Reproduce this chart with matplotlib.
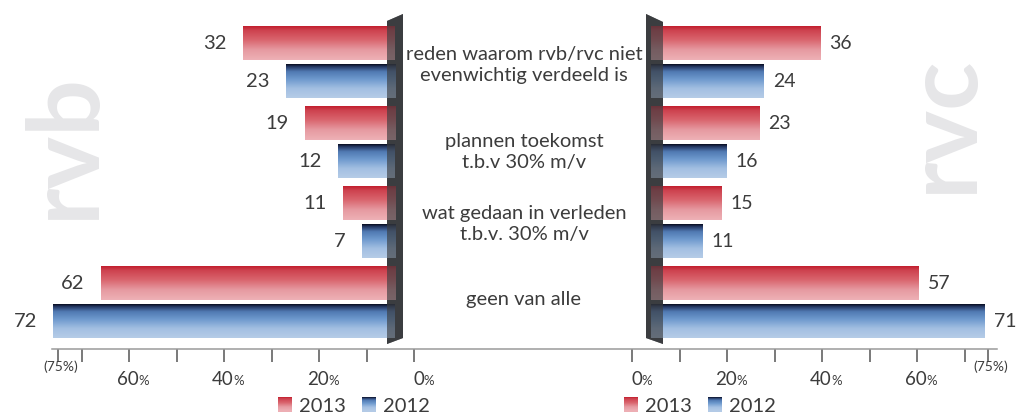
############################# Chart setup ##########################################

import matplotlib
matplotlib.use('Agg')
import matplotlib.pyplot as plt
import matplotlib.transforms as mtransforms
import numpy as np
from matplotlib.colors import LinearSegmentedColormap
from matplotlib.patches import Polygon, Rectangle, Patch
from matplotlib.lines import Line2D
from matplotlib.legend_handler import HandlerBase

plt.rcParams['font.family'] = ['Lato', 'DejaVu Sans']

# data
categories = ['reden waarom rvb/rvc niet\nevenwichtig verdeeld is',
              'plannen toekomst\nt.b.v 30% m/v',
              'wat gedaan in verleden\nt.b.v. 30% m/v',
              'geen van alle']
rvb_2013 = [32, 19, 11, 62]
rvb_2012 = [23, 12, 7, 72]
rvc_2013 = [36, 23, 15, 57]
rvc_2012 = [24, 16, 11, 71]
years = ['2013', '2012']
tick_values = [0, 10, 20, 30, 40, 50, 60, 70, 75]
labelled_ticks = [0, 20, 40, 60]

TEXT = '#3c3c3c'
WALL = '#3b3d40'

red_cmap = LinearSegmentedColormap.from_list('red', [
    (0.0, '#c21d2c'), (0.12, '#cd414e'), (0.4, '#d9646d'),
    (0.7, '#e69aa1'), (1.0, '#eeb1b6')])
blue_cmap = LinearSegmentedColormap.from_list('blue', [
    (0.0, '#070b1e'), (0.08, '#263a66'), (0.22, '#5079b2'),
    (0.45, '#6f9ace'), (0.72, '#a3bfe2'), (1.0, '#b5cce7')])

W, H = 1018, 416
fig = plt.figure(figsize=(W / 100, H / 100), dpi=100)


def fx(px):
    return px / W


def fy(py):
    return 1 - py / H


class HandlerGradient(HandlerBase):
    """Legend square drawn as a stack of colour strips."""
    def __init__(self, cmap):
        super().__init__()
        self.cmap = cmap

    def create_artists(self, legend, orig_handle, xdescent, ydescent,
                       width, height, fontsize, trans):
        n = 14
        strips = []
        for i in range(n):
            strips.append(Rectangle((-xdescent, -ydescent + height * (n - 1 - i) / n),
                                    width, height / n + 0.2,
                                    facecolor=self.cmap((i + 0.5) / n),
                                    edgecolor='none', transform=trans))
        return strips


def gradient_bars(ax, bars, cmap):
    grad = np.linspace(0, 1, 256).reshape(-1, 1)
    for b in bars:
        x0, y0, w, h = b.get_x(), b.get_y(), b.get_width(), b.get_height()
        ax.imshow(grad, cmap=cmap, aspect='auto', origin='upper',
                  extent=(x0, x0 + w, y0 + h, y0), zorder=3,
                  interpolation='bilinear')


########################################### Bars ###################################

pos = np.arange(len(categories))
off, bh = 0.24, 0.4125
ylim = (3.534, -0.778)

ax_l = fig.add_axes([0, fy(345), fx(395), 345 / H])
ax_r = fig.add_axes([fx(651), fy(345), 1 - fx(651), 345 / H])

for ax, v13, v12, xlim, side in [(ax_l, rvb_2013, rvb_2012, (395 / 4.75, 0), 'l'),
                                 (ax_r, rvc_2013, rvc_2012, (0, 367 / 4.70), 'r')]:
    b13 = ax.barh(pos - off, v13, height=bh, color='#d9656e', zorder=2)
    b12 = ax.barh(pos + off, v12, height=bh, color='#6f9ace', zorder=2)
    gradient_bars(ax, b13, red_cmap)
    gradient_bars(ax, b12, blue_cmap)
    for bars, vals in [(b13, v13), (b12, v12)]:
        for b, v in zip(bars, vals):
            yc = b.get_y() + b.get_height() / 2
            if side == 'l':
                ax.annotate(str(v), xy=(v, yc), xytext=(-16, 0), textcoords='offset pixels',
                            ha='right', va='center', fontsize=14.5, color=TEXT)
            else:
                ax.annotate(str(v), xy=(v, yc), xytext=(9, 0), textcoords='offset pixels',
                            ha='left', va='center', fontsize=14, color=TEXT)
    ax.set_xlim(*xlim)
    ax.set_ylim(*ylim)
    ax.set_facecolor('none')
    ax.axis('off')

# dark "walls" behind and over the bar ends
walls = [[(387, 21), (403, 14), (403, 338), (387, 344)],
         [(646, 14), (663, 22), (663, 344), (646, 338)]]
for w in walls:
    pts = [(fx(x), fy(y)) for x, y in w]
    fig.add_artist(Polygon(pts, closed=True, facecolor=WALL, edgecolor='none',
                           transform=fig.transFigure, zorder=-1))
    fig.add_artist(Polygon(pts, closed=True, facecolor=WALL, edgecolor='none', alpha=0.66,
                           transform=fig.transFigure, zorder=5))

# category labels in the middle
label_y = [65, 152, 224, 300]
for lab, yc in zip(categories, label_y):
    fig.text(fx(524), fy(yc), lab, ha='center', va='center', fontsize=14.5,
             color=TEXT, linespacing=1.3)

# big watermark labels
fig.text(fx(65), fy(146), 'rvb', rotation=90, ha='center', va='center',
         fontsize=72, fontweight='bold', color='#e6e6e8', zorder=-2)
fig.text(fx(943), fy(124), 'rvc', rotation=90, ha='center', va='center',
         fontsize=72, fontweight='bold', color='#e6e6e8', zorder=-2)

########################################### Bottom scales ###################################

# one continuous baseline under both scales
fig.add_artist(Line2D([fx(52), fx(997)], [fy(349), fy(349)], color='#9a9a9a',
                      linewidth=1.1, transform=fig.transFigure))

ax_tl = fig.add_axes([fx(52), fy(349), fx(523 - 52), 0.001])
ax_tl.set_xlim((414 - 52) / 4.75, (414 - 523) / 4.75)
ax_tr = fig.add_axes([fx(523), fy(349), fx(997 - 523), 0.001])
ax_tr.set_xlim((523 - 632) / 4.75, (997 - 632) / 4.75)

for ax in (ax_tl, ax_tr):
    ax.set_facecolor('none')
    for s in ax.spines.values():
        s.set_visible(False)
    ax.yaxis.set_visible(False)
    ax.set_xticks(tick_values)
    ax.set_xticklabels([])
    ax.tick_params(axis='x', length=9.5, width=1.1, color='#555555', direction='out')
    trans = mtransforms.blended_transform_factory(ax.transData, fig.transFigure)
    num_t = mtransforms.offset_copy(trans, fig=fig, x=10, y=0, units='dots')
    pct_t = mtransforms.offset_copy(trans, fig=fig, x=9, y=0, units='dots')
    for v in labelled_ticks:
        ax.text(v, fy(385), str(v), transform=num_t, ha='right', va='baseline',
                fontsize=13.5, color=TEXT)
        ax.text(v, fy(385), '%', transform=pct_t, ha='left', va='baseline',
                fontsize=9.5, color=TEXT)
    ax.text(75, fy(367), '(75%)', transform=mtransforms.offset_copy(trans, fig=fig, x=3, y=0, units='dots'),
            ha='center', va='center', fontsize=10, color=TEXT)

########################################### Legends ###################################

handles = [Patch(facecolor='#d9656e'), Patch(facecolor='#6f9ace')]
hmap = {handles[0]: HandlerGradient(red_cmap), handles[1]: HandlerGradient(blue_cmap)}
for cx in (354, 700):
    fig.legend(handles=handles, labels=years, handler_map=hmap, loc='center',
               bbox_to_anchor=(fx(cx), fy(406)), ncol=2, frameon=False, fontsize=14.5,
               handlelength=0.7, handleheight=0.7, handletextpad=0.35,
               columnspacing=0.8, borderpad=0, labelcolor=TEXT)

fig.savefig('out.png', dpi=100)
